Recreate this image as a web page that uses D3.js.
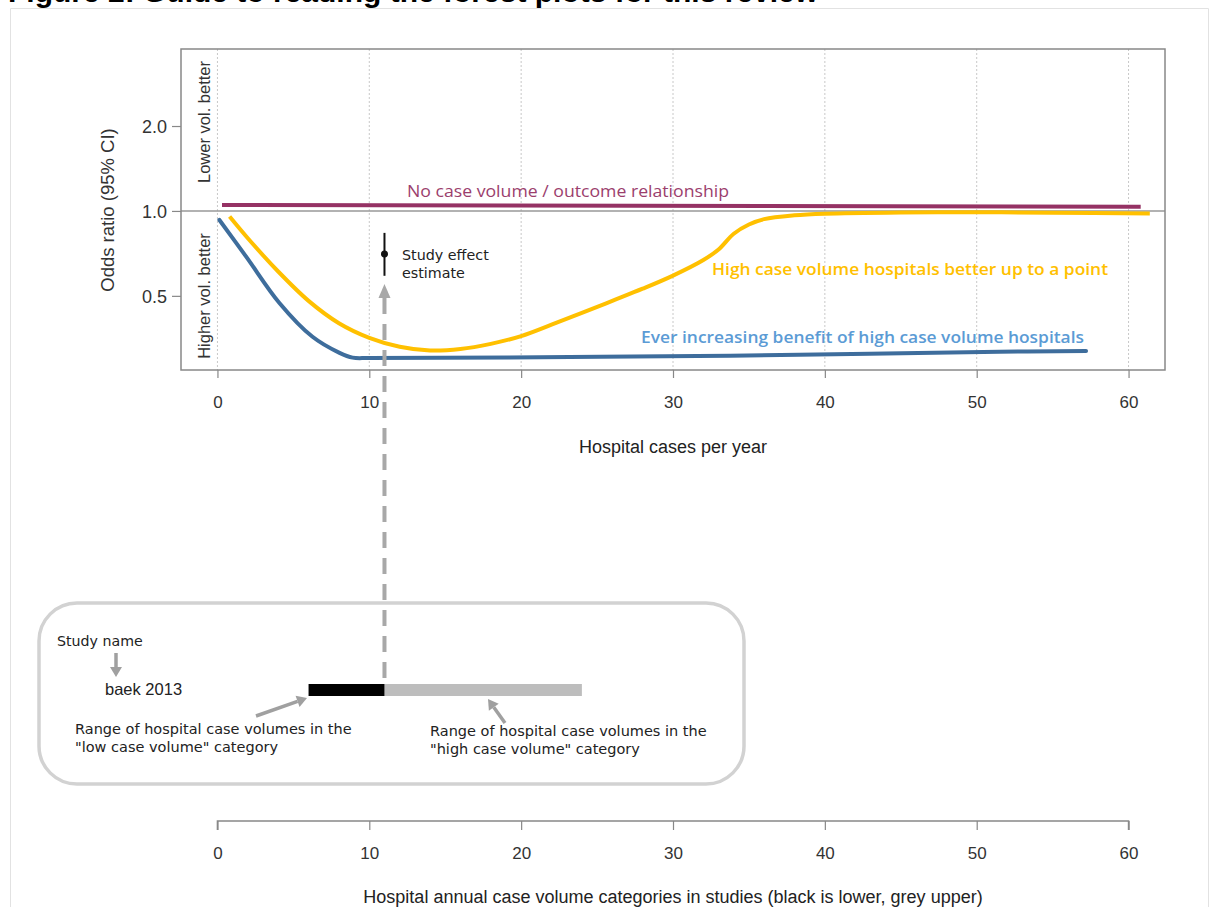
<!DOCTYPE html>
<html><head><meta charset="utf-8">
<script src="https://cdnjs.cloudflare.com/ajax/libs/d3/7.8.5/d3.min.js"></script>
<style>body{margin:0;background:#fff}svg{display:block}</style>
</head><body>
<svg id="c" width="1211" height="907"></svg>
<script>
// ---- data ----
const xTicks = [0, 10, 20, 30, 40, 50, 60];
const yTicks = [0.5, 1.0, 2.0];
const yTickLabels = ["0.5", "1.0", "2.0"];
const noRelX = [0.3, 60.8];
const noRelOR = [1.05, 1.035];
const blueX  = [0.13, 1.89, 4.08, 6.26, 8.04, 8.9, 10, 25.2, 38.3, 51.5, 57.2];
const blueOR = [0.929, 0.689, 0.472, 0.358, 0.314, 0.302, 0.301, 0.304, 0.309, 0.317, 0.319];
const yellowX  = [0.8, 2, 4, 6, 8, 10, 12, 14, 16, 18, 20, 22, 24, 26, 28, 30, 32, 33, 34, 35, 36, 38, 40, 45, 50, 55, 61.4];
const yellowOR = [0.955, 0.80, 0.61, 0.48, 0.40, 0.355, 0.33, 0.32, 0.324, 0.338, 0.36, 0.395, 0.435, 0.48, 0.53, 0.59, 0.67, 0.73, 0.83, 0.895, 0.935, 0.965, 0.978, 0.988, 0.99, 0.985, 0.98];
const estimate = {x: 11, or: 0.704, lo: 0.589, hi: 0.836};
const studyName = "baek 2013";
const lowRange = [6, 11];
const highRange = [11, 24];
const labels = {
  title: "Figure 2: Guide to reading the forest plots for this review",
  noRel: "No case volume / outcome relationship",
  yellow: "High case volume hospitals better up to a point",
  blue: "Ever increasing benefit of high case volume hospitals",
  yAxis: "Odds ratio (95% CI)",
  lower: "Lower vol. better",
  higher: "Higher vol. better",
  xAxis: "Hospital cases per year",
  xAxis2: "Hospital annual case volume categories in studies (black is lower, grey upper)"
};

// ---- drawing ----
const svg = d3.select("#c");
const FONT = "'Liberation Sans', Arial, sans-serif";
const SFONT = "'DejaVu Sans', sans-serif";
const CFONT = "'Open Sans', 'Noto Sans', sans-serif";

// outer frame
svg.append("path").attr("d","M10.5,920 V8.5 H1208.5 V920").attr("fill","none").attr("stroke","#e2e2e2").attr("stroke-width",1);
svg.append("text").attr("x",8).attr("y",2).attr("font-family",FONT).attr("font-weight","bold").attr("font-size",30).attr("fill","#000").text(labels.title);

const box = {l:181, t:49, r:1165, b:370};
const x = d3.scaleLinear().domain([-2.4, 62.4]).range([box.l, box.r]);
const y = d3.scaleLog().base(2).domain([0.273, 3.75]).range([box.b, box.t]);

// grid
svg.append("g").selectAll("line").data(xTicks).join("line")
  .attr("x1",d=>x(d)).attr("x2",d=>x(d)).attr("y1",box.t).attr("y2",box.b)
  .attr("stroke","#c8c8c8").attr("stroke-width",1).attr("stroke-dasharray","2,2");
// reference line OR=1
svg.append("line").attr("x1",box.l).attr("x2",box.r).attr("y1",y(1)).attr("y2",y(1)).attr("stroke","#999").attr("stroke-width",1.5);

// axes
const xa = svg.append("g").attr("transform",`translate(0,${box.b})`)
  .call(d3.axisBottom(x).tickValues(xTicks).tickSize(8).tickPadding(18).tickFormat(d3.format("d")));
const ya = svg.append("g").attr("transform",`translate(${box.l},0)`)
  .call(d3.axisLeft(y).tickValues(yTicks).tickSize(9).tickPadding(5).tickFormat((d,i)=>yTickLabels[i]));
[xa, ya].forEach(g=>{
  g.select(".domain").remove();
  g.selectAll("line").attr("stroke","#888").attr("stroke-width",1.2);
  g.selectAll("text").attr("font-family",FONT).attr("font-size",17).attr("fill","#333");
});
ya.selectAll("text").attr("font-size",18).attr("dy","0.35em");

svg.append("rect").attr("x",box.l).attr("y",box.t).attr("width",box.r-box.l).attr("height",box.b-box.t)
  .attr("fill","none").attr("stroke","#888").attr("stroke-width",1.5);

// region labels
svg.append("text").attr("transform",`translate(210,122) rotate(-90)`).attr("text-anchor","middle")
  .attr("font-family",FONT).attr("font-size",16.5).attr("fill","#333").text(labels.lower);
svg.append("text").attr("transform",`translate(210,296) rotate(-90)`).attr("text-anchor","middle")
  .attr("font-family",FONT).attr("font-size",16.5).attr("fill","#333").text(labels.higher);
svg.append("text").attr("transform",`translate(114,210) rotate(-90)`).attr("text-anchor","middle")
  .attr("font-family",FONT).attr("font-size",18.5).attr("fill","#333").text(labels.yAxis);
svg.append("text").attr("x",x(30)).attr("y",453).attr("text-anchor","middle")
  .attr("font-family",FONT).attr("font-size",18).attr("fill","#222").text(labels.xAxis);

// curves
const line = d3.line().x(d=>x(d[0])).y(d=>y(d[1])).curve(d3.curveCatmullRom.alpha(0.5));
svg.append("path").datum(noRelX.map((v,i)=>[v,noRelOR[i]])).attr("d",d3.line().x(d=>x(d[0])).y(d=>y(d[1])))
  .attr("fill","none").attr("stroke","#953264").attr("stroke-width",4);
svg.append("path").datum(yellowX.map((v,i)=>[v,yellowOR[i]])).attr("d",line)
  .attr("fill","none").attr("stroke","#ffc000").attr("stroke-width",4).attr("stroke-linecap","butt");
svg.append("path").datum(blueX.map((v,i)=>[v,blueOR[i]])).attr("d",line)
  .attr("fill","none").attr("stroke","#3e6d9c").attr("stroke-width",4).attr("stroke-linecap","round");

svg.append("text").attr("x",568).attr("y",197).attr("text-anchor","middle").attr("font-family",CFONT)
  .attr("font-size",16).attr("fill","#9b3e6d").attr("textLength",322).attr("lengthAdjust","spacingAndGlyphs").text(labels.noRel);
svg.append("text").attr("x",712).attr("y",275).attr("font-family",CFONT).attr("font-weight",600)
  .attr("font-size",16).attr("fill","#ffc000").attr("textLength",396).attr("lengthAdjust","spacingAndGlyphs").text(labels.yellow);
svg.append("text").attr("x",641).attr("y",343).attr("font-family",CFONT).attr("font-weight",600)
  .attr("font-size",16).attr("fill","#5b9bd5").attr("textLength",443).attr("lengthAdjust","spacingAndGlyphs").text(labels.blue);

// study effect estimate
const ex = x(estimate.x);
svg.append("line").attr("x1",ex).attr("x2",ex).attr("y1",y(estimate.hi)).attr("y2",y(estimate.lo)).attr("stroke","#111").attr("stroke-width",2);
svg.append("circle").attr("cx",ex).attr("cy",y(estimate.or)).attr("r",3.5).attr("fill","#111");
svg.append("text").attr("x",402).attr("y",260).attr("font-family",SFONT).attr("font-size",14.3).attr("fill","#222").text("Study effect");
svg.append("text").attr("x",402).attr("y",278).attr("font-family",SFONT).attr("font-size",14.3).attr("fill","#222").text("estimate");

// dashed grey arrow
svg.append("line").attr("x1",ex).attr("x2",ex).attr("y1",298).attr("y2",684).attr("stroke","#a8a8a8").attr("stroke-width",4).attr("stroke-dasharray","16,10");
svg.append("path").attr("d",`M${ex},284 L${ex-6},298 L${ex+6},298 Z`).attr("fill","#a8a8a8");

// rounded box
svg.append("rect").attr("x",39).attr("y",603).attr("width",705).attr("height",181).attr("rx",38)
  .attr("fill","none").attr("stroke","#d2d2d2").attr("stroke-width",3.5);

svg.append("text").attr("x",57).attr("y",646).attr("font-family",SFONT).attr("font-size",14.2).attr("fill","#222").text("Study name");
function arrow(x1,y1,x2,y2){
  const a = Math.atan2(y2-y1,x2-x1), L=10, W=6;
  const bx = x2 - L*Math.cos(a), by = y2 - L*Math.sin(a);
  svg.append("line").attr("x1",x1).attr("y1",y1).attr("x2",bx).attr("y2",by).attr("stroke","#a0a0a0").attr("stroke-width",3.5);
  svg.append("path").attr("d",`M${x2},${y2} L${bx+W*Math.sin(a)},${by-W*Math.cos(a)} L${bx-W*Math.sin(a)},${by+W*Math.cos(a)} Z`).attr("fill","#a0a0a0");
}
arrow(116,653,116,677);
svg.append("text").attr("x",105).attr("y",695).attr("font-family",FONT).attr("font-size",16.5).attr("fill","#222").text(studyName);

// category bar
svg.append("rect").attr("x",x(highRange[0])).attr("y",684).attr("width",x(highRange[1])-x(highRange[0])).attr("height",12).attr("fill","#bdbdbd");
svg.append("rect").attr("x",x(lowRange[0])).attr("y",684).attr("width",x(lowRange[1])-x(lowRange[0])).attr("height",12).attr("fill","#000");

arrow(256,716,307,698);
arrow(505,723,488,699);
const T = 14.5;
svg.append("text").attr("x",75).attr("y",734).attr("font-family",SFONT).attr("font-size",T).attr("fill","#222").text("Range of hospital case volumes in the");
svg.append("text").attr("x",75).attr("y",752).attr("font-family",SFONT).attr("font-size",T).attr("fill","#222").text('"low case volume" category');
svg.append("text").attr("x",430).attr("y",736).attr("font-family",SFONT).attr("font-size",T).attr("fill","#222").text("Range of hospital case volumes in the");
svg.append("text").attr("x",430).attr("y",754).attr("font-family",SFONT).attr("font-size",T).attr("fill","#222").text('"high case volume" category');

// bottom axis
const xb = svg.append("g").attr("transform","translate(0,821)")
  .call(d3.axisBottom(x).tickValues(xTicks).tickSize(9).tickPadding(17).tickFormat(d3.format("d")));
xb.select(".domain").attr("stroke","#888").attr("stroke-width",1.5).attr("d",`M${x(0)},9V0H${x(60)}V9`);
xb.selectAll("line").attr("stroke","#888").attr("stroke-width",1.2);
xb.selectAll("text").attr("font-family",FONT).attr("font-size",17).attr("fill","#333");
svg.append("text").attr("x",x(30)).attr("y",903).attr("text-anchor","middle")
  .attr("font-family",FONT).attr("font-size",18).attr("fill","#222").text(labels.xAxis2);
</script>
</body></html>
